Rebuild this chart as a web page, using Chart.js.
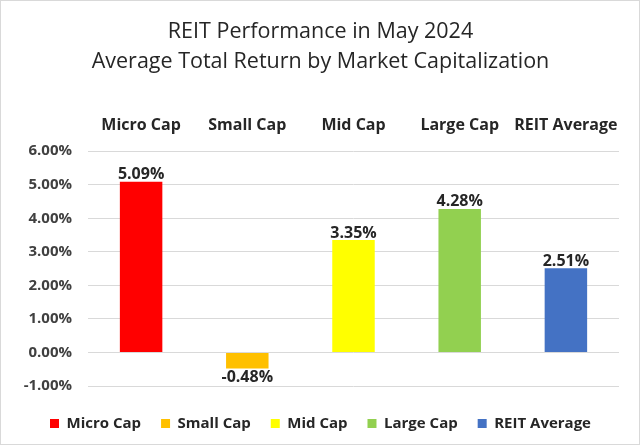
<!DOCTYPE html>
<html>
<head>
<meta charset="utf-8">
<script src="https://cdn.jsdelivr.net/npm/chart.js@4/dist/chart.umd.min.js"></script>
<style>
  html, body { margin: 0; padding: 0; background: #fff; }
  #wrap { width: 638px; height: 443px; border: 1px solid #d9d9d9; }
</style>
</head>
<body>
<div id="wrap"><canvas id="reitChart" width="638" height="443"></canvas></div>
<script>
const categories = ['Micro Cap', 'Small Cap', 'Mid Cap', 'Large Cap', 'REIT Average'];
const returns = [5.09, -0.48, 3.35, 4.28, 2.51];
const barColors = ['#FF0000', '#FFC000', '#FFFF00', '#92D050', '#4472C4'];
const yTicks = [-1, 0, 1, 2, 3, 4, 5, 6];

const fontFamily = '"Open Sans", sans-serif';
const textColor = '#262626';

// value labels above positive bars, below negative ones
const valueLabels = {
    id: 'valueLabels',
    afterDatasetsDraw(chart) {
        const ctx = chart.ctx;
        const meta = chart.getDatasetMeta(0);
        ctx.save();
        ctx.font = 'bold 16px ' + fontFamily;
        ctx.fillStyle = textColor;
        ctx.textAlign = 'center';
        meta.data.forEach((bar, i) => {
            const v = returns[i];
            const text = v.toFixed(2) + '%';
            if (v >= 0) {
                ctx.textBaseline = 'bottom';
                ctx.fillText(text, bar.x, bar.y + 1);
            } else {
                ctx.textBaseline = 'top';
                ctx.fillText(text, bar.x, bar.y + 1);
            }
        });
        ctx.restore();
    }
};

new Chart(document.getElementById('reitChart').getContext('2d'), {
    type: 'bar',
    data: {
        labels: categories,
        datasets: [{
            data: returns,
            backgroundColor: barColors,
            barPercentage: 0.5,
            categoryPercentage: 0.8
        }]
    },
    options: {
        responsive: false,
        animation: false,
        layout: { padding: { left: 21, right: 20, top: 0, bottom: 3 } },
        scales: {
            x: {
                position: 'top',
                grid: { display: false, drawTicks: false },
                border: { display: false },
                ticks: {
                    color: textColor,
                    font: { family: fontFamily, size: 16, weight: 'bold' },
                    padding: 16,
                    maxRotation: 0,
                    minRotation: 0,
                    autoSkip: false
                }
            },
            xb: {
                type: 'category',
                position: 'bottom',
                grid: { display: false, drawTicks: false },
                border: { display: false },
                ticks: { display: false },
                afterFit: (s) => { s.height = 10; }
            },
            y: {
                min: yTicks[0],
                max: yTicks[yTicks.length - 1],
                afterBuildTicks: (axis) => { axis.ticks = yTicks.map(v => ({ value: v })); },
                afterFit: (s) => { s.width = 66; },
                grid: { color: '#d9d9d9', drawTicks: false },
                border: { display: false },
                ticks: {
                    color: '#404040',
                    padding: 16,
                    font: { family: fontFamily, size: 15, weight: 'bold' },
                    callback: (v) => v.toFixed(2) + '%'
                }
            }
        },
        plugins: {
            title: {
                display: true,
                text: ['REIT Performance in May 2024', 'Average Total Return by Market Capitalization'],
                color: textColor,
                font: { family: fontFamily, size: 21.5, weight: 'normal', lineHeight: 1.395 },
                padding: { top: 16, bottom: 23 }
            },
            legend: {
                position: 'bottom',
                labels: {
                    color: textColor,
                    font: { family: fontFamily, size: 15, weight: 'bold' },
                    boxWidth: 9,
                    boxHeight: 9,
                    padding: 20,
                    generateLabels: () => categories.map((c, i) => ({
                        text: c,
                        fillStyle: barColors[i],
                        strokeStyle: barColors[i],
                        lineWidth: 0,
                        fontColor: textColor
                    }))
                }
            },
            tooltip: { enabled: false }
        }
    },
    plugins: [valueLabels]
});
</script>
</body>
</html>
